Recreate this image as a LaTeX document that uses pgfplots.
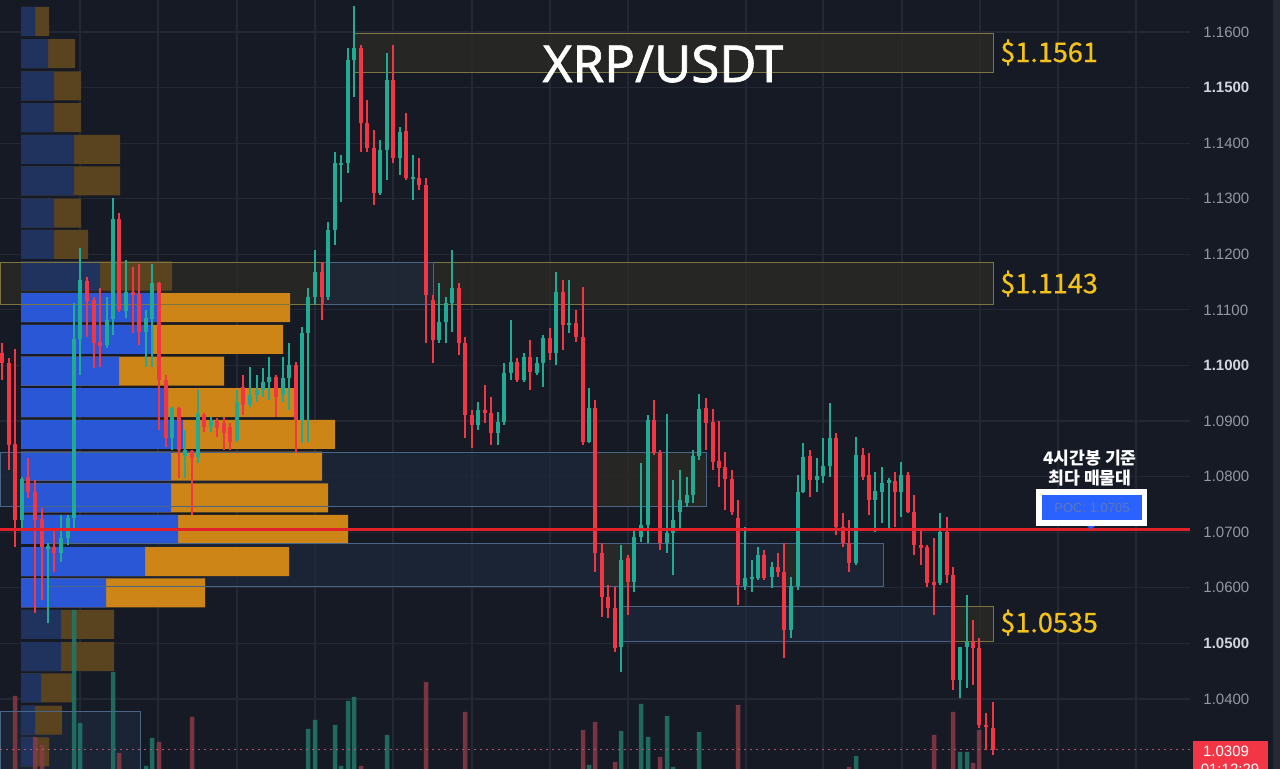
\documentclass[border=0pt]{standalone}
\usepackage{pgfplots}
\pgfplotsset{compat=1.18}
\usepackage{pgfplotstable}
\usepackage{fontspec}
\setmainfont{Liberation Sans}
\newfontfamily\titlefont{Noto Sans}[FakeBold=1.2]
\newfontfamily\kr{Noto Sans CJK KR}
\newfontfamily\krm{Noto Sans CJK KR}[FakeBold=0.8]
\definecolor{bg}{HTML}{161A25}
\definecolor{gridc}{HTML}{232834}
\definecolor{cup}{HTML}{22AB94}
\definecolor{cdn}{HTML}{F23645}
\definecolor{vup}{HTML}{22786A}
\definecolor{vdn}{HTML}{8A3A44}
\definecolor{pblue}{HTML}{2A57D6}
\definecolor{porange}{HTML}{CC8516}
\definecolor{dblue}{HTML}{20335F}
\definecolor{dorange}{HTML}{5A4420}
\definecolor{ybox}{HTML}{2C2C25}
\definecolor{yline}{HTML}{7C7540}
\definecolor{bbox}{HTML}{1E283A}
\definecolor{bline}{HTML}{4A6585}
\definecolor{tickc}{HTML}{9598A1}
\definecolor{tickb}{HTML}{D1D4DC}
\definecolor{gold}{HTML}{F2C21B}
\definecolor{pocred}{HTML}{E3212B}
\definecolor{pocblue}{HTML}{2962FF}
\definecolor{poctext}{HTML}{6276B8}
\definecolor{dotc}{HTML}{B0566A}
\definecolor{edge}{HTML}{262A35}

% candles: x (pixel position), open, high, low, close
\pgfplotstableread{
x o h l c
22 1.0722 1.0799 1.0704 1.0795
48 1.0669 1.0680 1.0536 1.0675
61 1.0662 1.0731 1.0646 1.0689
68 1.0689 1.0731 1.0677 1.0725
74 1.0725 1.1112 1.0707 1.1047
80 1.1047 1.1211 1.0983 1.1154
107 1.1037 1.1123 1.1031 1.1082
113 1.1083 1.1301 1.1055 1.1263
126 1.1098 1.1190 1.1085 1.1132
146 1.1060 1.1100 1.0997 1.1085
152 1.1083 1.1182 1.0997 1.1148
172 1.0869 1.0925 1.0848 1.0923
185 1.0837 1.0884 1.0797 1.0848
198 1.0835 1.0956 1.0824 1.0914
211 1.0889 1.0907 1.0880 1.0902
237 1.0866 1.0956 1.0862 1.0934
250 1.0929 1.0997 1.0925 1.0947
257 1.0947 1.0983 1.0934 1.0956
263 1.0956 1.0995 1.0943 1.0970
269 1.0970 1.1015 1.0938 1.0979
283 1.0947 1.1015 1.0934 1.0977
289 1.0977 1.1040 1.0920 1.1001
302 1.0902 1.1069 1.0860 1.1058
308 1.1058 1.1139 1.0862 1.1123
315 1.1123 1.1208 1.1109 1.1168
328 1.1123 1.1258 1.1118 1.1244
335 1.1244 1.1384 1.1217 1.1364
341 1.1361 1.1379 1.1294 1.1364
348 1.1364 1.1571 1.1346 1.1550
354 1.1550 1.1647 1.1483 1.1571
380 1.1310 1.1406 1.1307 1.1388
387 1.1388 1.1562 1.1334 1.1514
400 1.1373 1.1429 1.1343 1.1420
413 1.1335 1.1379 1.1298 1.1339
439 1.1046 1.1148 1.1040 1.1078
446 1.1078 1.1123 1.1040 1.1112
452 1.1112 1.1208 1.1060 1.1139
478 1.0893 1.0934 1.0884 1.0920
498 1.0878 1.0916 1.0857 1.0898
504 1.0898 1.1004 1.0893 1.0986
511 1.0986 1.1082 1.0974 1.1006
524 1.0974 1.1022 1.0970 1.1015
537 1.0986 1.1015 1.0983 1.1004
543 1.1004 1.1055 1.0961 1.1049
556 1.1022 1.1168 1.1001 1.1132
569 1.1073 1.1154 1.1058 1.1076
589 1.0862 1.0959 1.0860 1.0923
621 1.0493 1.0677 1.0448 1.0650
634 1.0610 1.0704 1.0592 1.0691
641 1.0691 1.0824 1.0682 1.0713
648 1.0713 1.0911 1.0680 1.0902
667 1.0680 1.0912 1.0662 1.0698
673 1.0698 1.0794 1.0623 1.0722
680 1.0736 1.0812 1.0704 1.0758
687 1.0752 1.0799 1.0745 1.0767
693 1.0767 1.0848 1.0752 1.0837
699 1.0837 1.0948 1.0830 1.0921
745 1.0603 1.0709 1.0596 1.0617
752 1.0617 1.0650 1.0592 1.0619
758 1.0617 1.0673 1.0614 1.0659
772 1.0619 1.0646 1.0599 1.0637
791 1.0524 1.0619 1.0509 1.0603
798 1.0603 1.0803 1.0596 1.0772
803 1.0772 1.0860 1.0770 1.0835
817 1.0794 1.0833 1.0772 1.0801
823 1.0801 1.0869 1.0788 1.0819
830 1.0819 1.0932 1.0799 1.0869
856 1.0644 1.0871 1.0641 1.0839
875 1.0758 1.0808 1.0700 1.0774
882 1.0772 1.0817 1.0716 1.0788
889 1.0788 1.0797 1.0707 1.0794
901 1.0772 1.0826 1.0727 1.0803
940 1.0608 1.0734 1.0605 1.0700
960 1.0434 1.0493 1.0401 1.0493
967 1.0493 1.0587 1.0419 1.0502
}\upc

\pgfplotstableread{
x o h l c
2 1.1022 1.1040 1.0974 1.1004
9 1.1004 1.1013 1.0812 1.0857
15 1.0858 1.1029 1.0673 1.0722
28 1.0799 1.0833 1.0761 1.0772
35 1.0772 1.0794 1.0555 1.0722
42 1.0723 1.0743 1.0578 1.0673
54 1.0673 1.0707 1.0628 1.0662
87 1.1152 1.1159 1.1051 1.1116
94 1.1118 1.1123 1.0995 1.1040
100 1.1042 1.1139 1.0997 1.1035
119 1.1263 1.1274 1.1096 1.1100
133 1.1132 1.1177 1.1058 1.1127
139 1.1128 1.1182 1.1037 1.1060
159 1.1148 1.1150 1.0884 1.0974
166 1.0974 1.0983 1.0853 1.0869
179 1.0923 1.0925 1.0797 1.0848
192 1.0846 1.0848 1.0731 1.0833
204 1.0911 1.0914 1.0880 1.0889
217 1.0900 1.0905 1.0871 1.0887
224 1.0896 1.0907 1.0848 1.0878
230 1.0889 1.0896 1.0848 1.0862
243 1.0961 1.0983 1.0911 1.0929
276 1.0979 1.0983 1.0907 1.0943
296 1.1001 1.1006 1.0842 1.0902
322 1.1168 1.1186 1.1082 1.1123
361 1.1571 1.1577 1.1384 1.1436
367 1.1436 1.1478 1.1384 1.1391
374 1.1391 1.1424 1.1289 1.1310
393 1.1514 1.1577 1.1364 1.1373
406 1.1422 1.1454 1.1334 1.1337
419 1.1337 1.1373 1.1316 1.1325
426 1.1325 1.1337 1.1040 1.1127
433 1.1118 1.1127 1.1004 1.1046
459 1.1139 1.1148 1.1019 1.1040
465 1.1040 1.1051 1.0869 1.0911
472 1.0911 1.0920 1.0851 1.0893
485 1.0920 1.0965 1.0896 1.0914
491 1.0914 1.0943 1.0857 1.0878
517 1.1006 1.1013 1.0970 1.0974
530 1.1015 1.1046 1.0956 1.0988
550 1.1049 1.1067 1.1010 1.1022
563 1.1132 1.1154 1.1028 1.1073
576 1.1076 1.1100 1.1042 1.1051
583 1.1051 1.1141 1.0857 1.0862
595 1.0923 1.0938 1.0628 1.0662
602 1.0662 1.0680 1.0547 1.0583
608 1.0583 1.0605 1.0545 1.0563
615 1.0563 1.0601 1.0484 1.0491
628 1.0653 1.0659 1.0551 1.0610
654 1.0902 1.0938 1.0839 1.0842
660 1.0842 1.0848 1.0668 1.0680
706 1.0923 1.0941 1.0848 1.0896
713 1.0898 1.0921 1.0812 1.0826
719 1.0828 1.0900 1.0781 1.0815
725 1.0817 1.0844 1.0740 1.0795
732 1.0795 1.0812 1.0731 1.0736
738 1.0725 1.0758 1.0569 1.0605
764 1.0659 1.0668 1.0614 1.0617
778 1.0637 1.0662 1.0619 1.0628
784 1.0628 1.0680 1.0473 1.0524
810 1.0837 1.0848 1.0763 1.0794
836 1.0869 1.0878 1.0695 1.0709
843 1.0709 1.0734 1.0673 1.0680
849 1.0680 1.0722 1.0628 1.0644
863 1.0839 1.0851 1.0794 1.0799
869 1.0803 1.0842 1.0731 1.0758
895 1.0792 1.0808 1.0709 1.0772
908 1.0803 1.0808 1.0734 1.0736
914 1.0736 1.0767 1.0659 1.0677
921 1.0677 1.0707 1.0641 1.0671
927 1.0673 1.0677 1.0601 1.0608
934 1.0610 1.0689 1.0551 1.0606
947 1.0700 1.0727 1.0608 1.0623
953 1.0623 1.0637 1.0416 1.0434
973 1.0502 1.0542 1.0425 1.0491
979 1.0491 1.0509 1.0347 1.0353
986 1.0353 1.0374 1.0308 1.0349
993 1.0347 1.0394 1.0299 1.0309
}\dnc

% volume (relative bar heights)
\pgfplotstableread{
x v
74 159
80 46
113 97
146 3
152 31
308 40
315 49
335 44
341 3
348 68
354 72
387 34
589 4
621 38
641 65
648 32
667 53
673 2
699 37
856 13
960 17
967 17
}\volup
\pgfplotstableread{
x v
15 73
35 32
42 24
119 16
159 27
192 52
361 3
426 87
465 57
583 39
595 47
615 7
660 12
738 64
849 2
934 34
953 57
973 6
979 39
}\voldn

% volume profile: price level, buy part, total
\pgfplotstableread{
p b t
1.1619 14 28
1.1561 27 54
1.1503 33 60
1.1446 33 60
1.1389 53 99
1.1332 53 99
1.1274 33 60
1.1218 33 67
1.1161 79 151
1.0534 40 93
1.0476 40 93
1.0420 20 51
1.0362 14 41
1.0305 14 28
}\profdim
\pgfplotstableread{
p b t
1.1104 139 269
1.1047 132 262
1.0990 98 203
1.0933 147 276
1.0876 162 314
1.0819 150 301
1.0762 150 307
1.0705 157 327
1.0647 124 268
1.0591 85 184
}\profbr

\pgfplotsset{
  base/.style={width=595pt, height=384.5pt, scale only axis, at={(0,0)}, anchor=south west,
    xmin=0, xmax=1190},
  price/.style={ymin=1.0274, ymax=1.16576},
  candle/.style={draw=none, mark=none, forget plot, error bars/.cd, y dir=both, y explicit,
    error mark=none, error bar style={#1}},
}
\tikzset{
  ybx/.style={fill=ybox, fill opacity=0.75, draw=none},
  bbx/.style={fill=bbox, fill opacity=0.75, draw=none},
  ybl/.style={draw=yline, line width=0.5pt},
  bbl/.style={draw=bline, line width=0.5pt},
}

\begin{document}
\begin{tikzpicture}
\useasboundingbox (0,0) rectangle (640pt,384.5pt);
\clip (0,0) rectangle (640pt,384.5pt);
\fill[bg] (0,0) rectangle (640pt,384.5pt);
\fill[edge] (636.5pt,0) rectangle (640pt,384.5pt);

% grid, ticks and box fills
\begin{axis}[base, price,
  axis line style={draw=none},
  xtick={80,158,237,315,393,472,550,628,746,823,902,980,1058,1136},
  xticklabels={},
  ytick={1.04,1.05,1.06,1.07,1.08,1.09,1.10,1.11,1.12,1.13,1.14,1.15,1.16},
  yticklabels={
    \textcolor{tickc}{1.0400},\textcolor{tickb}{\bfseries 1.0500},\textcolor{tickc}{1.0600},
    \textcolor{tickc}{1.0700},\textcolor{tickc}{1.0800},\textcolor{tickc}{1.0900},
    \textcolor{tickb}{\bfseries 1.1000},\textcolor{tickc}{1.1100},\textcolor{tickc}{1.1200},
    \textcolor{tickc}{1.1300},\textcolor{tickc}{1.1400},\textcolor{tickb}{\bfseries 1.1500},
    \textcolor{tickc}{1.1600}},
  ytick pos=right, yticklabel pos=right,
  major tick length=0pt,
  grid=major, major grid style={gridc, line width=0.6pt},
  yticklabel style={anchor=west, xshift=6.5pt, inner sep=0pt, font=\fontsize{7.5}{9}\selectfont},
]
\fill[ybx] (axis cs:353,1.15964) rectangle (axis cs:993,1.1528);
\fill[ybx] (axis cs:0,1.1186) rectangle (axis cs:993,1.11104);
\fill[bbx] (axis cs:323,1.1186) rectangle (axis cs:433,1.11104);
\fill[bbx] (axis cs:0,1.0844) rectangle (axis cs:595,1.07468);
\fill[ybx] (axis cs:595,1.0844) rectangle (axis cs:706,1.07468);
\fill[bbx] (axis cs:48,1.06802) rectangle (axis cs:883,1.06028);
\fill[ybx] (axis cs:600,1.06802) rectangle (axis cs:635,1.06028);
\fill[ybx] (axis cs:784,1.06802) rectangle (axis cs:800,1.06028);
\fill[bbx] (axis cs:620,1.05668) rectangle (axis cs:953,1.05038);
\fill[ybx] (axis cs:953,1.05668) rectangle (axis cs:993,1.05038);
\fill[bbx] (axis cs:0,1.03778) rectangle (axis cs:140,1.0260);
\end{axis}

% volume profile
\begin{axis}[base, price, hide axis, xmin=-21, xmax=1169]
\addplot[xbar, bar width=0.00522, bar shift=0pt, fill=dorange, draw=none] table[x=t, y=p] {\profdim};
\addplot[xbar, bar width=0.00522, bar shift=0pt, fill=dblue, draw=none] table[x=b, y=p] {\profdim};
\addplot[xbar, bar width=0.00522, bar shift=0pt, fill=porange, draw=none] table[x=t, y=p] {\profbr};
\addplot[xbar, bar width=0.00522, bar shift=0pt, fill=pblue, draw=none] table[x=b, y=p] {\profbr};
\end{axis}

% volume
\begin{axis}[base, hide axis, ymin=0, ymax=769]
\addplot[ybar, bar width=4.5, bar shift=0pt, fill=vup, fill opacity=0.85, draw=none] table[x=x, y=v] {\volup};
\addplot[ybar, bar width=4.5, bar shift=0pt, fill=vdn, fill opacity=0.85, draw=none] table[x=x, y=v] {\voldn};
\end{axis}

% candles and annotations
\begin{axis}[base, price, hide axis, clip=false]
\draw[ybl] (axis cs:353,1.15964) rectangle (axis cs:993,1.1528);
\draw[ybl] (axis cs:0,1.1186) rectangle (axis cs:993,1.11104);
\draw[bbl] (axis cs:323,1.1186) rectangle (axis cs:433,1.11104);
\draw[bbl] (axis cs:0,1.0844) rectangle (axis cs:706,1.07468);
\draw[bbl] (axis cs:48,1.06802) rectangle (axis cs:883,1.06028);
\draw[bbl] (axis cs:620,1.05668) rectangle (axis cs:993,1.05038);
\draw[ybl] (axis cs:953,1.05668) rectangle (axis cs:993,1.05038);
\draw[bbl] (axis cs:0,1.03778) rectangle (axis cs:140,1.0260);

\addplot[candle={line width=0.6pt, draw=cup}]
  table[x=x, y expr={(\thisrow{h}+\thisrow{l})/2}, y error expr={(\thisrow{h}-\thisrow{l})/2}] {\upc};
\addplot[candle={line width=0.6pt, draw=cdn}]
  table[x=x, y expr={(\thisrow{h}+\thisrow{l})/2}, y error expr={(\thisrow{h}-\thisrow{l})/2}] {\dnc};
\addplot[candle={line width=2.25pt, draw=cup}]
  table[x=x, y expr={(\thisrow{o}+\thisrow{c})/2}, y error expr={max(abs(\thisrow{c}-\thisrow{o})/2,0.00005)}] {\upc};
\addplot[candle={line width=2.25pt, draw=cdn}]
  table[x=x, y expr={(\thisrow{o}+\thisrow{c})/2}, y error expr={max(abs(\thisrow{c}-\thisrow{o})/2,0.00005)}] {\dnc};

\draw[pocred, line width=1.25pt] (axis cs:0,1.0705) -- (axis cs:1190,1.0705);
\draw[dotc, line width=0.5pt, dash pattern=on 1pt off 2pt] (axis cs:0,1.0309) -- (axis cs:1190,1.0309);

\node[font=\titlefont\fontsize{25.5}{30}\selectfont, text=white, anchor=base] at (axis cs:663,1.1510) {XRP/USDT};
\node[font=\krm\fontsize{13.5}{16}\selectfont, text=gold, anchor=base west, inner sep=0pt] at (axis cs:1000,1.1546) {\$1.1561};
\node[font=\krm\fontsize{13.5}{16}\selectfont, text=gold, anchor=base west, inner sep=0pt] at (axis cs:1000,1.1130) {\$1.1143};
\node[font=\krm\fontsize{13.5}{16}\selectfont, text=gold, anchor=base west, inner sep=0pt] at (axis cs:1000,1.0520) {\$1.0535};

\node[font=\kr\bfseries\fontsize{8.6}{10}\selectfont, text=white, anchor=base, inner sep=0pt] at (axis cs:1090,1.0822) {4시간봉 기준};
\node[font=\kr\bfseries\fontsize{8.6}{10}\selectfont, text=white, anchor=base, inner sep=0pt] at (axis cs:1090,1.0786) {최다 매물대};

\fill[white] (axis cs:1036,1.07774) rectangle (axis cs:1147,1.07108);
\fill[pocblue] (axis cs:1042,1.07666) rectangle (axis cs:1142,1.07216);
\node[font=\fontsize{6.5}{7}\selectfont, text=poctext, inner sep=0pt] at (axis cs:1092,1.07441) {POC: 1.0705};
\fill[pocblue] (axis cs:1087,1.0711) -- (axis cs:1095,1.0711) -- (axis cs:1091,1.0705) -- cycle;

\fill[cdn] (axis cs:1193,1.03238) rectangle (axis cs:1268,1.0250);
\node[font=\fontsize{7.5}{9}\selectfont, text=white, inner sep=0pt] at (axis cs:1226,1.03058) {1.0309};
\node[font=\fontsize{7.5}{9}\selectfont, text=white, inner sep=0pt] at (axis cs:1230,1.02740) {01:12:29};
\end{axis}
\end{tikzpicture}
\end{document}
